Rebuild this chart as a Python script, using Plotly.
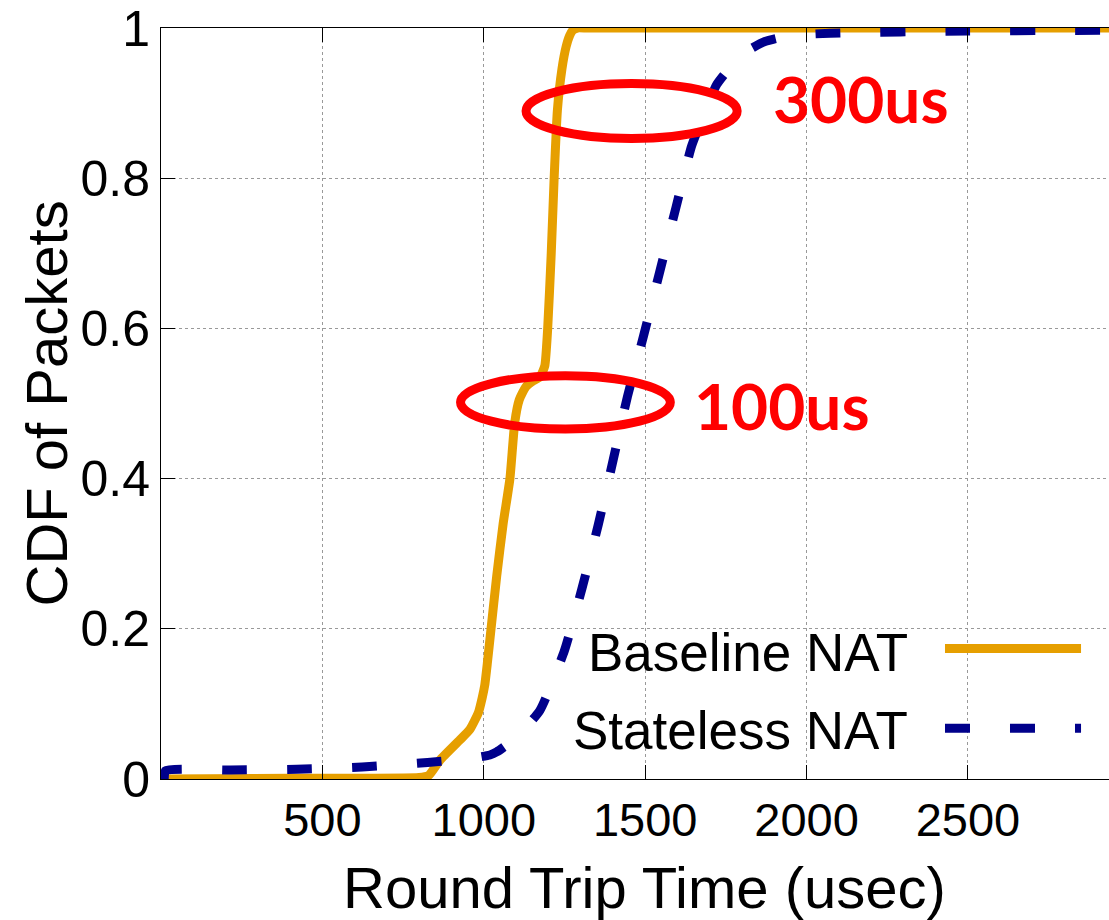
import plotly.graph_objects as go

# ---- data ----
baseline_x = [5, 400, 800, 830, 864, 926, 957, 983, 995, 1003, 1011, 1022, 1040, 1060, 1081, 1096, 1110, 1130,
              1153, 1175, 1189, 1198, 1209, 1218, 1228, 1242, 1255, 1266, 1276, 1290, 1320, 1600, 2000, 2500, 2937]
baseline_y = [0.0, 0.001, 0.002, 0.005, 0.025, 0.052, 0.066, 0.088, 0.108, 0.125, 0.154, 0.198, 0.27, 0.34, 0.40,
              0.475, 0.505, 0.522, 0.530, 0.536, 0.55, 0.60, 0.70, 0.80, 0.89, 0.945, 0.975, 0.99, 0.997, 1.0,
              1.0, 1.0, 1.0, 1.0, 1.0]

stateless_x = [10, 14, 216, 420, 623, 826, 950, 1019, 1040, 1100, 1174, 1250, 1305, 1355, 1401, 1445, 1495,
               1546, 1596, 1644, 1690, 1722, 1800, 1871, 1950, 2073, 2500, 2937]
stateless_y = [0.0, 0.011, 0.012, 0.013, 0.016, 0.022, 0.027, 0.032, 0.036, 0.055, 0.0915, 0.171, 0.255, 0.339,
               0.425, 0.509, 0.59, 0.677, 0.762, 0.843, 0.893, 0.925, 0.965, 0.982, 0.99, 0.993, 0.996, 0.997]

series_names = ["Baseline NAT", "Stateless NAT"]
x_ticks = [500, 1000, 1500, 2000, 2500]
y_ticks = [0, 0.2, 0.4, 0.6, 0.8, 1]
y_ticktext = ["0", "0.2", "0.4", "0.6", "0.8", "1"]
x_title = "Round Trip Time (usec)"
y_title = "CDF of Packets"

# annotation ellipses (data coords) and labels
ellipses = [(1131, 1785, 0.853, 0.926), (928, 1578, 0.466, 0.537)]
labels = [("300us", 1890, 0.906), ("100us", 1645, 0.497)]

ORANGE = "#E69F00"
BLUE = "#00008B"
FONT = "Liberation Sans"

fig = go.Figure()
fig.add_trace(go.Scatter(x=baseline_x, y=baseline_y, mode="lines", name=series_names[0],
                         line=dict(color=ORANGE, width=9, shape="spline", smoothing=0.5),
                         cliponaxis=False, showlegend=False))
fig.add_trace(go.Scatter(x=stateless_x, y=stateless_y, mode="lines", name=series_names[1],
                         line=dict(color=BLUE, width=9, dash="25px,40px", shape="spline", smoothing=0.5),
                         cliponaxis=False, showlegend=False))

# legend box (white, covers grid), text and samples
fig.add_shape(type="rect", xref="paper", yref="paper", x0=0.3766, x1=1.0, y0=0.0093, y1=0.224,
              fillcolor="white", line=dict(width=0), layer="between")
leg_rows = [(series_names[0], 0.169, 0.1737, dict(color=ORANGE, width=9)),
            (series_names[1], 0.065, 0.0676, dict(color=BLUE, width=9, dash="25px,40px"))]
for name, ty, ly, ln in leg_rows:
    fig.add_annotation(xref="paper", yref="paper", x=0.790, y=ty, text=name, showarrow=False,
                       xanchor="right", yanchor="middle", font=dict(family=FONT, size=53, color="black"))
    fig.add_shape(type="line", xref="paper", yref="paper", x0=0.827, x1=0.9705, y0=ly, y1=ly, line=ln)

for x0, x1, y0, y1 in ellipses:
    fig.add_shape(type="circle", xref="x", yref="y", x0=x0, x1=x1, y0=y0, y1=y1,
                  line=dict(color="#FF0000", width=9), layer="above")
for txt, lx, ly in labels:
    fig.add_annotation(x=lx, y=ly, xref="x", yref="y", text="<b>" + txt + "</b>", showarrow=False,
                       xanchor="left", yanchor="middle", font=dict(family="Lato", size=64, color="#FF0000"))

# axis titles
fig.add_annotation(xref="paper", yref="paper", x=0.5105, y=-0.145, text=x_title, showarrow=False,
                   xanchor="center", yanchor="middle", font=dict(family=FONT, size=58, color="black"))
fig.add_annotation(xref="paper", yref="paper", x=-0.1203, y=0.5, text=y_title, showarrow=False, textangle=-90,
                   xanchor="center", yanchor="middle", font=dict(family=FONT, size=58, color="black"))

fig.update_layout(
    width=1109, height=920,
    margin=dict(l=161, r=0, t=25, b=141),
    paper_bgcolor="white", plot_bgcolor="white",
    font=dict(family=FONT, color="black"),
    xaxis=dict(range=[0, 2937], tickvals=x_ticks, ticks="inside", ticklen=14, tickcolor="black",
               showline=True, linecolor="black", linewidth=1, mirror="ticks",
               showgrid=True, gridcolor="#999999", griddash="dot", gridwidth=1, zeroline=False,
               tickfont=dict(size=47), ticklabeloverflow="allow"),
    yaxis=dict(range=[0, 1], tickvals=y_ticks, ticktext=y_ticktext, ticks="inside", ticklen=14,
               tickcolor="black", showline=True, linecolor="black", linewidth=1, mirror=False,
               showgrid=True, gridcolor="#999999", griddash="dot", gridwidth=1, zeroline=False,
               tickfont=dict(size=50), ticklabeloverflow="allow"),
)

fig.write_html("out.html")
